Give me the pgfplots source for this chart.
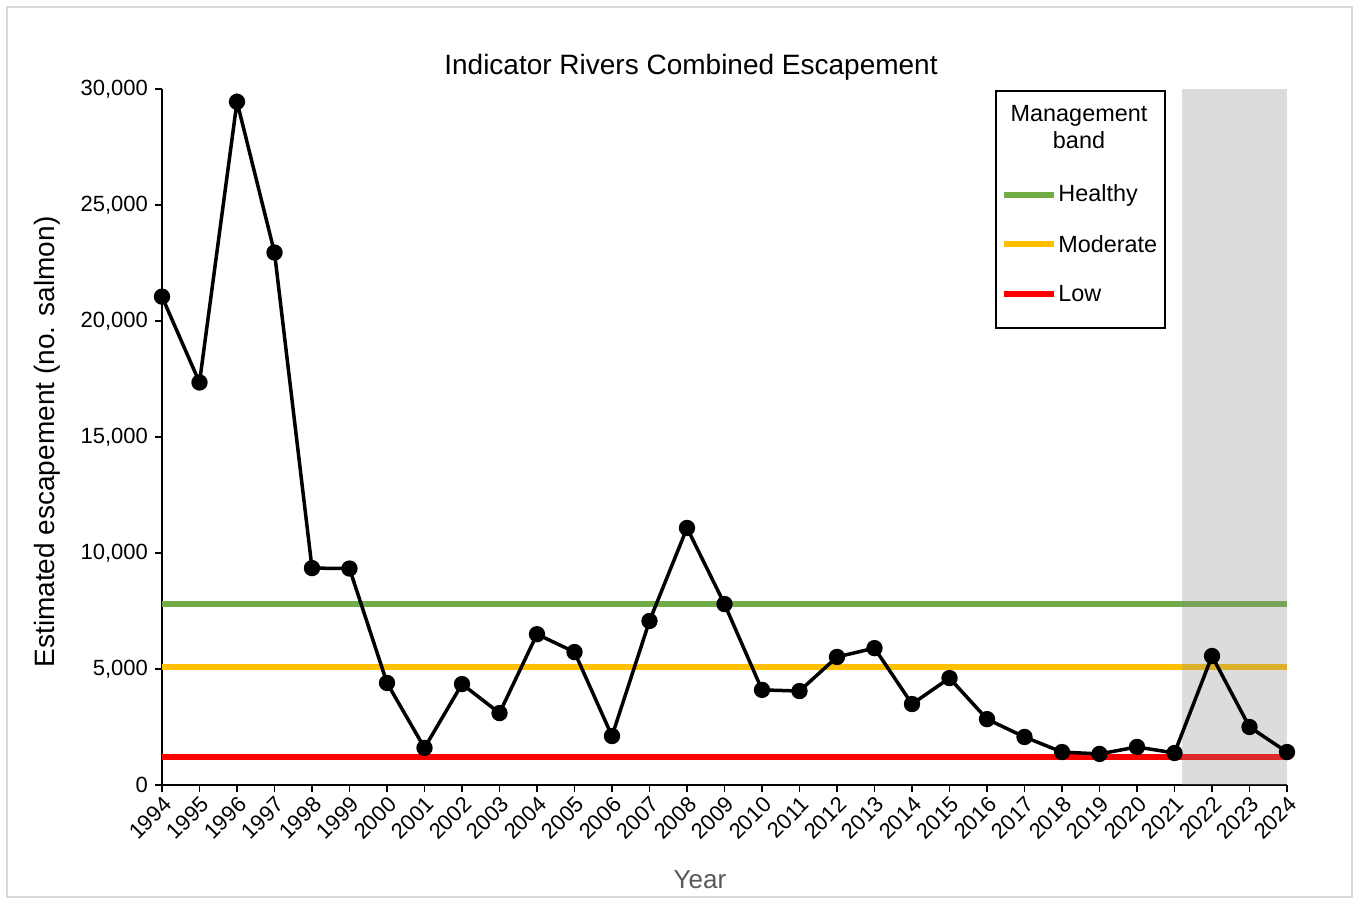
\documentclass[border=0pt]{standalone}
\usepackage{fontspec}
\setmainfont{Liberation Sans}
\usepackage{pgfplots}
\pgfplotsset{compat=1.18}

\definecolor{bandgreen}{HTML}{70AD47}
\definecolor{bandyellow}{HTML}{FFC000}
\definecolor{bandred}{HTML}{FF0000}

\begin{document}
\begin{tikzpicture}[x=1pt,y=1pt]
\useasboundingbox (-81,-61) rectangle (596.5,392.5);
\draw[black!15, line width=1.2pt, fill=white] (-77.5,-56) rectangle (595,389);

\begin{axis}[
    at={(0,0)}, anchor=south west,
    scale only axis,
    width=562.5pt, height=348pt,
    xmin=1994, xmax=2024,
    ymin=0, ymax=30000,
    axis x line*=bottom, axis y line*=left,
    axis line style={-, line width=1pt},
    xtick={1994,1995,...,2024},
    ytick={0,5000,10000,15000,20000,25000,30000},
    tick align=outside,
    major tick length=3.5pt,
    tick style={black, line width=0.8pt},
    scaled y ticks=false,
    /pgf/number format/assume math mode=true,
    xticklabel style={/pgf/number format/1000 sep={}, rotate=45, anchor=north east,
        inner sep=1pt, font=\fontsize{11}{13}\selectfont},
    yticklabel style={/pgf/number format/1000 sep={,}, font=\fontsize{11}{13}\selectfont},
    clip=false,
]
    % management bands
    \addplot[bandgreen, line width=3pt] coordinates {(1994,7800)(2024,7800)};
    \addplot[bandyellow, line width=3pt] coordinates {(1994,5100)(2024,5100)};
    \addplot[bandred, line width=3pt] coordinates {(1994,1200)(2024,1200)};

    % shaded recent period
    \addplot[draw=none, fill=black!45, fill opacity=0.3] coordinates {(2021.2,30000)(2024,30000)} \closedcycle;

    % escapement
    \addplot[black, line width=1.75pt, mark=*, mark size=3.2pt] coordinates {
        (1994,21050)(1995,17350)(1996,29450)(1997,22950)(1998,9350)(1999,9330)
        (2000,4400)(2001,1600)(2002,4350)(2003,3100)(2004,6500)(2005,5730)
        (2006,2110)(2007,7070)(2008,11080)(2009,7800)(2010,4100)(2011,4050)
        (2012,5520)(2013,5900)(2014,3490)(2015,4610)(2016,2840)(2017,2070)
        (2018,1420)(2019,1340)(2020,1640)(2021,1380)(2022,5560)(2023,2500)
        (2024,1420)
    };
\end{axis}

% titles
\node[font=\fontsize{14}{16}\selectfont] at (264.5,359) {Indicator Rivers Combined Escapement};
\node[rotate=90, font=\fontsize{14}{16}\selectfont] at (-57.5,171.5) {Estimated escapement (no. salmon)};
\node[text=black!65, font=\fontsize{13}{15}\selectfont] at (269,-47.5) {Year};

% legend
\draw[black, line width=0.6pt, fill=white] (417,228.5) rectangle (501.5,347);
\node[align=center, font=\fontsize{11.7}{13.5}\selectfont] at (458.5,329) {Management\\band};
\draw[bandgreen, line width=3pt] (421,295) -- (446,295);
\node[anchor=west, inner sep=1pt, font=\fontsize{11.7}{13.5}\selectfont] at (447,295) {Healthy};
\draw[bandyellow, line width=3pt] (421,270.5) -- (446,270.5);
\node[anchor=west, inner sep=1pt, font=\fontsize{11.7}{13.5}\selectfont] at (447,270.5) {Moderate};
\draw[bandred, line width=3pt] (421,245.5) -- (446,245.5);
\node[anchor=west, inner sep=1pt, font=\fontsize{11.7}{13.5}\selectfont] at (447,245.5) {Low};
\end{tikzpicture}
\end{document}
